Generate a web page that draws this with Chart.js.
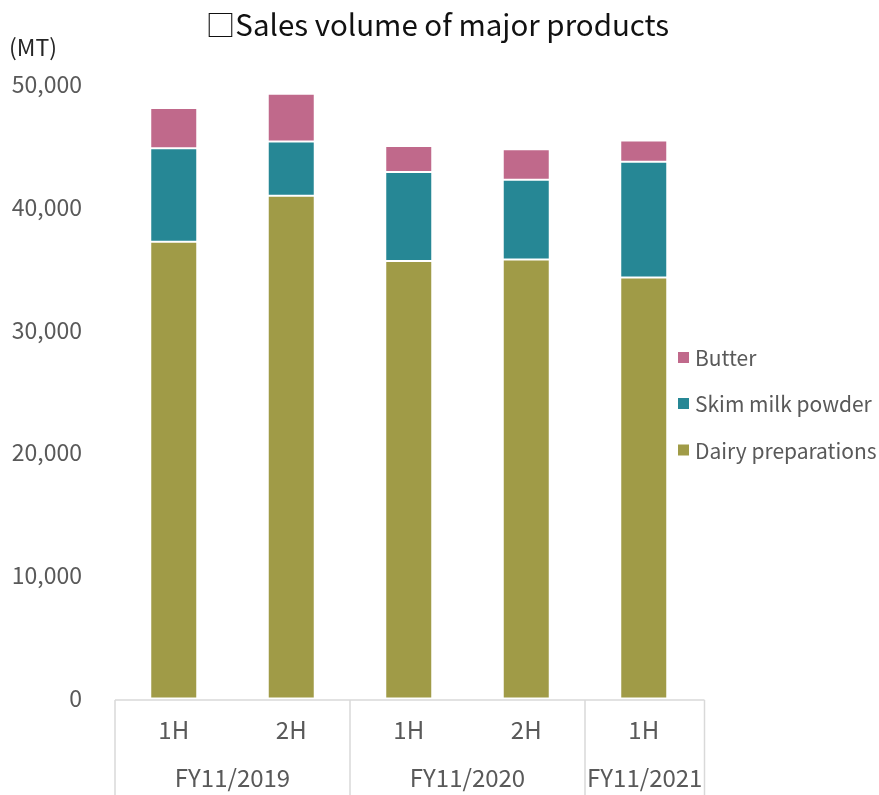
<!DOCTYPE html>
<html>
<head>
<meta charset="utf-8">
<script src="https://cdn.jsdelivr.net/npm/chart.js@4/dist/chart.umd.min.js"></script>
<style>
  html, body { margin: 0; padding: 0; background: #ffffff; }
  #wrap { width: 879px; height: 795px; }
</style>
</head>
<body>
<div id="wrap"><canvas id="chart" width="879" height="795"></canvas></div>
<script>
// Half-year periods and the fiscal years they belong to
const periods = ['1H', '2H', '1H', '2H', '1H'];
const fiscalYears = ['FY11/2019', 'FY11/2020', 'FY11/2021'];
const periodsPerYear = [2, 2, 1];

// Sales volume (MT) by product
const dairyPreparations = [37160, 40900, 35600, 35710, 34250];
const skimMilkPowder = [7620, 4430, 7230, 6490, 9420];
const butter = [3260, 3880, 2120, 2500, 1740];

// Value axis
const yMin = 0;
const yMax = 50000;
const yStep = 10000;

const chartTitle = '□Sales volume of major products';
const unitLabel = '(MT)';

const FONT = '"Noto Sans CJK JP", "Noto Sans", sans-serif';
const GREY = '#595959';
const LINE = '#d9d9d9';

// Grouped category axis: separators and fiscal-year labels under the half-year ticks
const yearAxisPlugin = {
  id: 'yearAxis',
  afterDraw(chart) {
    const ctx = chart.ctx;
    const x = chart.scales.x;
    const area = chart.chartArea;
    const n = periods.length;
    const step = (x.right - x.left) / n;
    const top = area.bottom + 1.5;
    const bottom = chart.height;
    ctx.save();
    ctx.strokeStyle = LINE;
    ctx.lineWidth = 1.5;
    ctx.beginPath();
    ctx.moveTo(x.left, top);
    ctx.lineTo(x.right + 2, top);
    ctx.stroke();
    let idx = 0;
    const edges = [x.left];
    periodsPerYear.forEach(c => { idx += c; edges.push(x.getPixelForValue(idx - 1) + step / 2); });
    edges[edges.length - 1] += 2;
    ctx.beginPath();
    edges.forEach(e => { ctx.moveTo(e, top); ctx.lineTo(e, bottom); });
    ctx.stroke();
    ctx.fillStyle = GREY;
    ctx.font = '24px ' + FONT;
    ctx.textAlign = 'center';
    ctx.textBaseline = 'middle';
    fiscalYears.forEach((label, i) => {
      ctx.fillText(label, (edges[i] + edges[i + 1]) / 2, 778);
    });
    ctx.restore();
  }
};

// Title, unit label and right-hand legend (top series first)
const sideTextPlugin = {
  id: 'sideText',
  afterDraw(chart) {
    const ctx = chart.ctx;
    ctx.save();
    ctx.textBaseline = 'middle';
    ctx.textAlign = 'center';
    ctx.fillStyle = '#111111';
    ctx.font = '29.5px ' + FONT;
    ctx.fillText(chartTitle, 437.5, 25);

    ctx.textAlign = 'left';
    ctx.fillStyle = '#262626';
    ctx.font = '23px ' + FONT;
    ctx.fillText(unitLabel, 9, 47);

    const ds = chart.data.datasets.slice().reverse();
    const rows = [357.5, 403.5, 450];
    ctx.font = '21px ' + FONT;
    ds.forEach((d, i) => {
      ctx.fillStyle = d.backgroundColor;
      ctx.fillRect(678, rows[i] - 5.5, 11, 11);
      ctx.fillStyle = GREY;
      ctx.fillText(d.label, 695, rows[i] + 1);
    });
    ctx.restore();
  }
};

new Chart(document.getElementById('chart'), {
  type: 'bar',
  data: {
    labels: periods,
    datasets: [
      { label: 'Dairy preparations', data: dairyPreparations, backgroundColor: '#a09b47' },
      { label: 'Skim milk powder', data: skimMilkPowder, backgroundColor: '#268795' },
      { label: 'Butter', data: butter, backgroundColor: '#c0698b' }
    ].map(d => Object.assign(d, {
      borderColor: '#ffffff',
      borderWidth: 1,
      borderSkipped: false,
      barPercentage: 0.4,
      categoryPercentage: 1.0
    }))
  },
  options: {
    responsive: false,
    devicePixelRatio: 1,
    animation: false,
    layout: { padding: { left: 0, right: 176.5, top: 84, bottom: 0 } },
    plugins: {
      legend: { display: false },
      tooltip: { enabled: false },
      title: { display: false }
    },
    scales: {
      x: {
        stacked: true,
        grid: { display: false, drawTicks: false },
        border: { display: false },
        ticks: {
          color: GREY,
          font: { family: FONT, size: 24 },
          padding: 17,
          maxRotation: 0
        },
        afterFit(scale) { scale.height = 96.5; }
      },
      y: {
        stacked: true,
        min: yMin,
        max: yMax,
        grid: { display: false, drawTicks: false },
        border: { display: false },
        ticks: {
          stepSize: yStep,
          color: GREY,
          font: { family: FONT, size: 23 },
          padding: 33,
          callback: v => v.toLocaleString('en-US')
        },
        afterFit(scale) { scale.width = 115; }
      }
    }
  },
  plugins: [yearAxisPlugin, sideTextPlugin]
});
</script>
</body>
</html>
